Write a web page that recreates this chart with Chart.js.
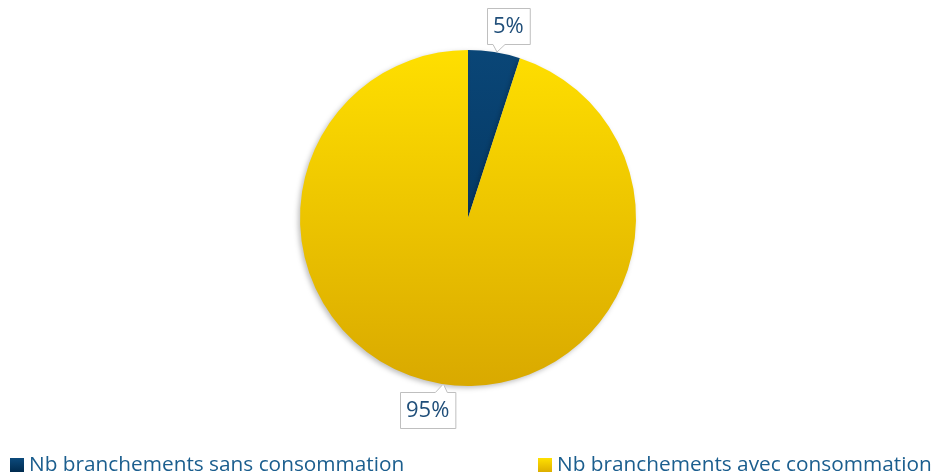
<!DOCTYPE html>
<html><head><meta charset="utf-8">
<script src="https://cdn.jsdelivr.net/npm/chart.js@4"></script>
<style>html,body{margin:0;padding:0;background:#fff}#w{width:936px;height:475px;position:relative}</style>
</head><body><div id="w"><canvas id="c"></canvas></div>
<script>
const categories = ["Nb branchements sans consommation", "Nb branchements avec consommation"];
const values = [5, 95];
const pctLabels = ["5%", "95%"];

const FONT = "'Open Sans', sans-serif";
const TEXT = "#1F4E79";
const LEG_TEXT = "#1B5E8E";

function grad(ctx, area, top, bottom) {
  const g = ctx.createLinearGradient(0, area.top, 0, area.bottom);
  g.addColorStop(0, top); g.addColorStop(1, bottom);
  return g;
}

const shadowPlugin = {
  id: 'shadow',
  beforeDatasetsDraw(chart) {
    const ctx = chart.ctx; ctx.save();
    ctx.shadowColor = 'rgba(0,0,0,0.25)';
    ctx.shadowBlur = 5; ctx.shadowOffsetX = -2; ctx.shadowOffsetY = 2;
  },
  afterDatasetsDraw(chart) { chart.ctx.restore(); }
};

const labelPlugin = {
  id: 'callouts',
  afterDraw(chart) {
    const ctx = chart.ctx;
    const meta = chart.getDatasetMeta(0);
    ctx.save();
    ctx.font = "22px " + FONT;
    meta.data.forEach((arc, i) => {
      const mid = (arc.startAngle + arc.endAngle) / 2 + 0.05;
      const d = arc.outerRadius + 28;
      const cx = arc.x + Math.cos(mid) * d, cy = arc.y + Math.sin(mid) * d;
      const txt = pctLabels[i];
      const tw = ctx.measureText(txt).width;
      const w = tw + 12, h = 36;
      const x0 = Math.round(cx - w / 2), y0 = Math.round(cy - h / 2);
      const pointDown = cy < arc.y;
      ctx.fillStyle = '#fff'; ctx.strokeStyle = '#BFBFBF'; ctx.lineWidth = 1;
      ctx.beginPath();
      if (pointDown) {
        const px = x0 + 10;
        ctx.moveTo(x0 + .5, y0 + .5); ctx.lineTo(x0 + w + .5, y0 + .5);
        ctx.lineTo(x0 + w + .5, y0 + h + .5);
        ctx.lineTo(px + 8, y0 + h + .5); ctx.lineTo(px, y0 + h + 8); ctx.lineTo(px - 4, y0 + h + .5);
        ctx.lineTo(x0 + .5, y0 + h + .5); ctx.closePath();
      } else {
        const px = x0 + w - 12;
        ctx.moveTo(x0 + .5, y0 + .5); ctx.lineTo(px - 8, y0 + .5); ctx.lineTo(px, y0 - 8); ctx.lineTo(px + 4, y0 + .5);
        ctx.lineTo(x0 + w + .5, y0 + .5); ctx.lineTo(x0 + w + .5, y0 + h + .5);
        ctx.lineTo(x0 + .5, y0 + h + .5); ctx.closePath();
      }
      ctx.fill(); ctx.stroke();
      ctx.fillStyle = TEXT; ctx.textAlign = 'center'; ctx.textBaseline = 'middle';
      ctx.fillText(txt, x0 + w / 2, y0 + h / 2 + 1);
    });
    // legend
    const legX = [10, 538];
    ctx.font = "20.8px " + FONT; ctx.textAlign = 'left'; ctx.textBaseline = 'middle';
    const ly = 465;
    categories.forEach((name, i) => {
      const sx = legX[i];
      const g = ctx.createLinearGradient(0, ly - 7, 0, ly + 7);
      if (i === 0) { g.addColorStop(0, '#0C4A7C'); g.addColorStop(1, '#002B4F'); }
      else { g.addColorStop(0, '#FFE000'); g.addColorStop(1, '#DDAE00'); }
      ctx.fillStyle = g; ctx.fillRect(sx, ly - 7, 14, 14);
      ctx.fillStyle = LEG_TEXT; ctx.fillText(name, sx + 19, ly);
    });
    ctx.restore();
  }
};

new Chart(document.getElementById('c'), {
  type: 'pie',
  data: {
    labels: categories,
    datasets: [{
      data: values,
      backgroundColor(c) {
        const a = c.chart.chartArea; if (!a) return null;
        return c.dataIndex === 0 ? grad(c.chart.ctx, a, '#0A4677', '#002C52')
                                 : grad(c.chart.ctx, a, '#FFDF00', '#D9A900');
      },
      borderWidth: 0
    }]
  },
  options: {
    responsive: true, maintainAspectRatio: false, animation: false,
    layout: { padding: { top: 50, bottom: 89, left: 0, right: 0 } },
    plugins: { legend: { display: false }, tooltip: { enabled: false } }
  },
  plugins: [shadowPlugin, labelPlugin]
});
</script></body></html>
